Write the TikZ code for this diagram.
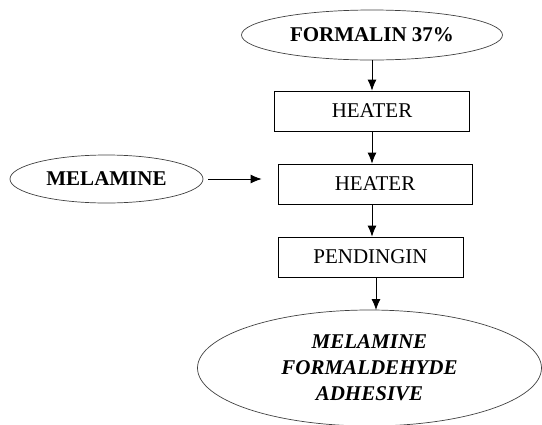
\documentclass[tikz,border=0pt]{standalone}
\usepackage{fontspec}
\setmainfont{Liberation Serif}
\usetikzlibrary{shapes.geometric,arrows.meta}

\begin{document}
\begin{tikzpicture}[x=1pt,y=-1pt,
	font=\fontsize{21}{26}\selectfont,
	every node/.style={inner sep=0pt},
	inbox/.style={draw, ellipse, line width=0.7pt, draw=black!75},
	procbox/.style={draw, rectangle, line width=0.8pt, minimum height=40pt},
	>={Latex[length=11pt,width=9pt]}]
		\useasboundingbox (0,0) rectangle (542,424);
		\draw (372,35) node[inbox, minimum width=261pt, minimum height=50pt] (form) {\textbf{FORMALIN 37\%}};
		\draw (372,111) node[procbox, minimum width=195pt] (heatA) {HEATER};
		\draw (375,184) node[procbox, minimum width=194pt] (heatB) {HEATER};
		\draw (370.5,257) node[procbox, minimum width=185pt] (cool) {PENDINGIN};
		\draw (106.5,179) node[inbox, minimum width=193pt, minimum height=48pt] (mel) {\textbf{MELAMINE}};
		\draw (369.5,368) node[inbox, minimum width=344pt, minimum height=116pt, align=center] (glue) {\textbf{\textit{MELAMINE}}\\\textbf{\textit{FORMALDEHYDE}}\\\textbf{\textit{ADHESIVE}}};

		\path[->, line width=0.8pt]
		(form.south) edge (form.south |- heatA.north)
		(heatA.south) edge (heatA.south |- heatB.north)
		(heatB.south -| heatA.south) edge (heatA.south |- cool.north)
		(cool.south -| 376,0) edge (376,310)
		(mel.east) edge[shorten <=5pt, shorten >=16pt] (heatB.west |- mel.east)
		;
	\end{tikzpicture}
\end{document}
